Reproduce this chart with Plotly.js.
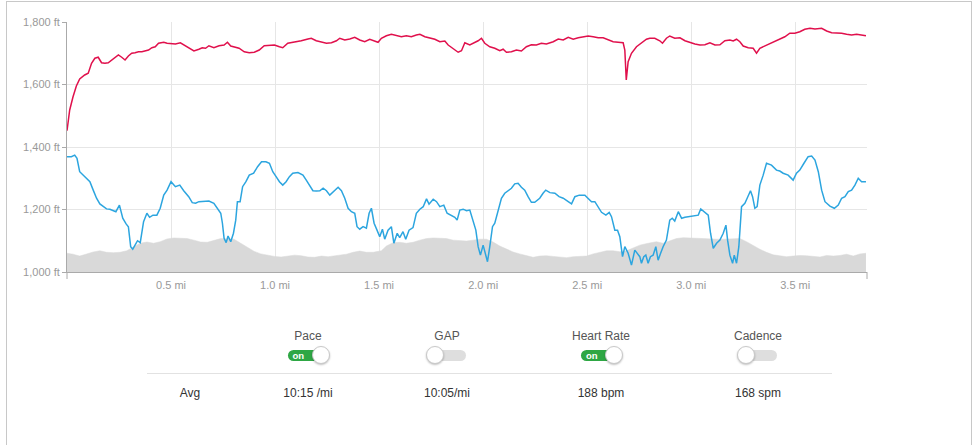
<!DOCTYPE html>
<html>
<head>
<meta charset="utf-8">
<script src="https://cdn.plot.ly/plotly-3.0.1.min.js"></script>
<style>
  html, body { margin: 0; padding: 0; background: #fff; }
  body { width: 974px; height: 445px; position: relative; overflow: hidden; font-family: "Liberation Sans", Arial, sans-serif; }
  #chart { position: absolute; left: 0; top: 0; width: 974px; height: 445px; }
  #frame { position: absolute; left: 6px; top: 1px; width: 966px; height: 600px; border: 1px solid #c8c8c8; box-sizing: border-box; pointer-events: none; }
  .lbl { position: absolute; transform: translate(-50%, -50%); font-size: 12px; color: #555; white-space: nowrap; }
  .val { position: absolute; transform: translate(-50%, -50%); font-size: 12px; color: #333; white-space: nowrap; }
  .pill { position: absolute; height: 11px; border-radius: 6px; }
  .knob { position: absolute; width: 16px; height: 16px; border-radius: 50%; background: #fff; border: 1px solid #c9c9c9; box-shadow: 0 1px 2px rgba(0,0,0,0.25); }
  .ontxt { position: absolute; font-size: 9.5px; font-weight: bold; color: #fff; line-height: 11px; }
  #sep { position: absolute; left: 147px; top: 373px; width: 685px; height: 1px; background: #e2e2e2; }
</style>
</head>
<body>
<div id="chart"></div>
<div id="frame"></div>
<div id="sep"></div>
<script>
// ---------- data ----------
const elevDist = [0,0.029,0.061,0.094,0.126,0.158,0.190,0.223,0.255,0.287,0.319,0.352,0.384,0.416,0.448,0.481,0.513,0.545,0.577,0.610,0.642,0.674,0.706,0.739,0.771,0.803,0.835,0.868,0.900,0.932,0.965,0.997,1.029,1.061,1.094,1.126,1.158,1.190,1.223,1.255,
 1.279,1.311,1.343,1.375,1.407,1.439,1.471,1.511,1.535,1.567,1.599,1.631,1.663,1.696,1.728,1.760,1.792,1.824,1.856,1.888,1.920,1.952,1.984,2.016,2.048,2.080,2.112,2.144,2.176,2.208,2.240,2.272,2.304,2.337,2.369,2.401,2.433,2.465,2.497,2.529,2.561,2.593,2.625,2.657,2.689,2.721,2.753,2.793,
 2.833,2.865,2.897,2.929,2.962,2.994,3.026,3.058,3.090,3.122,3.154,3.186,3.218,3.234,3.266,3.298,3.330,3.362,3.394,3.426,3.458,3.490,3.522,3.554,3.587,3.619,3.651,3.683,3.715,3.747,3.779,3.811,3.840];
const elevFt = [1060,1057,1051,1058,1064,1068,1063,1062,1063,1068,1081,1092,1096,1092,1097,1106,1109,1108,1107,1102,1096,1095,1102,1107,1106,1105,1092,1078,1066,1058,1053,1050,1048,1051,1054,1052,1048,1047,1051,1049,
 1051,1052,1057,1063,1067,1063,1063,1068,1083,1094,1095,1092,1095,1102,1107,1109,1109,1107,1102,1100,1099,1102,1105,1105,1096,1083,1073,1064,1058,1052,1047,1051,1052,1050,1049,1046,1049,1051,1051,1058,1063,1068,1068,1065,1068,1076,1086,1092,
 1097,1092,1100,1107,1110,1110,1108,1107,1105,1105,1105,1106,1105,1107,1097,1084,1073,1063,1055,1052,1049,1051,1053,1052,1050,1048,1053,1051,1053,1057,1051,1058,1060];

const paceDist = [0.000,0.021,0.037,0.048,0.061,0.077,0.094,0.110,0.126,0.142,0.158,0.174,0.190,0.206,0.223,0.235,0.252,0.268,0.284,0.295,0.306,0.316,0.327,0.339,0.352,0.368,0.384,0.397,0.413,0.432,0.448,0.465,0.481,0.500,0.521,0.542,0.561,0.585,0.602,0.618,0.634,0.658,0.682,0.706,0.723,0.739,0.747,0.755,0.765,0.774,0.787,0.800,0.811,0.819,0.832,0.844,0.860,0.876,0.897,0.916,0.935,0.956,0.973,0.989,1.005,1.021,1.037,1.053,1.069,1.085,1.110,1.134,1.150,1.166,1.182,1.198,1.215,1.231,1.247,1.263,
 1.279,1.303,1.319,1.335,1.351,1.367,1.383,1.394,1.407,1.423,1.439,1.452,1.463,1.476,1.490,1.503,1.516,1.527,1.543,1.559,1.571,1.587,1.599,1.615,1.628,1.644,1.663,1.679,1.696,1.712,1.728,1.740,1.760,1.776,1.792,1.811,1.827,1.848,1.864,1.875,1.888,1.904,1.920,1.936,1.952,1.965,1.976,1.987,2.000,2.011,2.021,2.032,2.045,2.056,2.072,2.088,2.104,2.120,2.136,2.152,2.168,2.184,2.200,2.216,2.232,2.248,2.272,2.288,2.301,2.321,2.345,2.365,2.385,2.409,2.425,2.441,2.462,2.489,2.505,2.521,2.537,2.553,2.569,2.590,2.606,2.617,2.633,2.646,2.657,2.670,2.681,2.697,2.713,2.729,
 2.753,2.761,2.772,2.782,2.793,2.804,2.817,2.830,2.841,2.853,2.865,2.881,2.897,2.909,2.921,2.938,2.954,2.970,2.994,3.018,3.034,3.046,3.066,3.082,3.093,3.106,3.122,3.138,3.154,3.167,3.175,3.186,3.199,3.207,3.218,3.229,3.242,3.258,3.269,3.285,3.295,3.306,3.317,3.330,3.346,3.362,3.386,3.410,3.426,3.442,3.466,3.490,3.506,3.522,3.542,3.562,3.579,3.595,3.611,3.627,3.643,3.667,3.688,3.707,3.723,3.739,3.755,3.771,3.787,3.803,3.819,3.840];
// pace in minutes per mile
const paceMinPerMi = [8.81,8.81,8.76,8.86,9.29,9.40,9.50,9.61,9.88,10.14,10.32,10.41,10.48,10.49,10.54,10.57,10.36,10.78,10.96,11.05,11.69,11.77,11.64,11.50,11.56,10.89,10.62,10.75,10.68,10.68,10.46,10.04,9.88,9.61,9.77,9.72,9.90,10.09,10.28,10.30,10.25,10.23,10.23,10.30,10.46,10.62,10.94,11.42,11.56,11.35,11.53,11.26,10.84,10.25,10.25,9.77,9.61,9.40,9.34,9.13,8.97,8.97,9.02,9.29,9.45,9.61,9.72,9.61,9.45,9.34,9.32,9.40,9.56,9.72,9.90,9.91,9.90,9.82,9.90,10.04,
 9.93,9.79,9.90,10.14,10.46,10.57,10.62,11.05,11.13,11.05,11.10,10.62,10.46,10.94,11.16,11.37,11.13,11.45,11.16,11.05,11.58,11.26,11.40,11.21,11.45,11.16,11.08,10.62,10.49,10.41,10.16,10.33,10.17,10.25,10.41,10.36,10.62,10.68,10.75,10.84,10.52,10.49,10.54,10.52,10.92,11.16,11.69,11.96,11.64,11.96,12.17,11.69,11.05,10.94,10.52,10.14,9.98,9.90,9.82,9.68,9.66,9.79,9.88,10.09,10.27,10.27,10.14,9.98,9.88,9.96,9.98,10.09,10.14,10.25,10.32,10.09,10.04,10.04,10.16,10.25,10.25,10.41,10.59,10.68,10.59,10.73,11.16,11.16,11.37,12.01,11.69,11.90,12.28,11.80,
 12.01,12.22,12.01,11.96,12.22,12.01,11.96,11.69,12.12,11.90,11.69,11.48,10.84,10.78,10.87,10.57,10.78,10.75,10.73,10.71,10.68,10.48,10.59,10.68,11.26,11.74,11.58,11.48,11.26,11.00,11.48,11.96,12.22,11.96,12.22,11.69,10.41,10.30,10.14,9.90,10.09,10.46,10.41,9.72,9.40,9.02,9.08,9.24,9.27,9.34,9.40,9.56,9.34,9.24,9.02,8.81,8.79,8.92,9.29,9.88,10.25,10.39,10.46,10.36,10.14,10.09,9.93,9.88,9.72,9.50,9.61,9.61];

const hrDist = [0,0.013,0.029,0.045,0.061,0.085,0.102,0.118,0.134,0.150,0.166,0.182,0.198,0.215,0.231,0.247,0.263,0.279,0.295,0.311,0.327,0.344,0.360,0.376,0.392,0.408,0.424,0.440,0.465,0.481,0.505,0.521,0.545,0.561,0.585,0.610,0.634,0.650,0.666,0.682,0.706,0.731,0.755,0.771,0.787,0.803,0.827,0.852,0.876,0.900,0.924,0.948,0.973,0.997,1.021,1.037,1.061,1.094,1.126,1.158,1.174,1.198,1.223,1.247,1.271,
 1.295,1.311,1.335,1.359,1.383,1.407,1.431,1.455,1.479,1.495,1.511,1.535,1.559,1.583,1.607,1.631,1.655,1.679,1.696,1.720,1.744,1.768,1.792,1.816,1.832,1.856,1.880,1.896,1.912,1.936,1.960,1.976,1.992,2.008,2.032,2.056,2.080,2.096,2.112,2.136,2.160,2.184,2.208,2.232,2.256,2.280,2.304,2.337,2.361,2.385,2.409,2.433,2.457,2.481,2.505,2.529,2.553,2.577,2.601,2.625,2.649,2.673,2.681,2.688,2.697,2.713,2.737,2.761,2.785,2.801,
 2.825,2.849,2.862,2.881,2.897,2.921,2.946,2.970,2.994,3.018,3.042,3.066,3.090,3.114,3.138,3.162,3.186,3.202,3.218,3.234,3.250,3.274,3.298,3.314,3.330,3.354,3.378,3.402,3.426,3.450,3.474,3.498,3.522,3.546,3.571,3.595,3.627,3.651,3.675,3.699,3.723,3.747,3.771,3.795,3.819,3.840];
const hrBpm = [156.5,164.8,170.1,174.4,177.2,178.8,179.5,183.5,185.5,185.9,183.7,183.5,183.7,184.8,185.5,186.8,185.9,184.8,186.4,187.5,187.7,188.1,188.1,188.5,188.8,189.7,190.1,191.5,191.9,191.5,191.2,191.2,191.7,190.8,189.5,188.4,189.1,189.7,189.5,190.5,189.7,190.5,190.8,191.9,190.4,190.1,189.5,188.1,187.7,187.9,188.8,190.5,190.8,190.8,190.1,189.7,191.5,191.9,192.5,193.2,193.5,192.5,192.1,191.5,191.7,
 192.5,193.5,192.8,193.2,193.9,192.8,192.1,193.1,192.4,191.9,193.5,194.5,195.1,194.5,194.1,194.5,194.1,194.8,195.1,194.1,193.7,193.1,192.1,192.4,190.8,189.5,187.9,188.5,191.7,190.8,191.7,192.5,193.5,191.5,190.1,189.5,188.5,189.1,187.9,188.1,188.8,188.4,190.1,190.9,190.8,191.5,191.2,192.1,193.2,192.8,193.9,193.1,193.7,194.1,194.4,194.1,193.7,193.7,192.8,192.1,191.9,191.7,188.8,176.8,184.1,187.5,190.1,191.7,193.1,193.5,
 193.5,192.5,191.5,193.5,194.4,193.5,193.7,192.5,191.7,191.2,190.8,190.9,191.7,190.8,190.9,192.5,192.8,192.4,193.1,192.1,190.4,189.7,189.5,187.5,189.5,190.4,191.5,192.1,193.1,194.1,195.5,195.5,196.1,197.1,197.5,197.2,197.5,196.4,195.7,195.7,195.5,195.1,194.8,195.1,194.8,194.5];

const xTickVals = [0.5, 1.0, 1.5, 2.0, 2.5, 3.0, 3.5];
const xTickText = ['0.5 mi', '1.0 mi', '1.5 mi', '2.0 mi', '2.5 mi', '3.0 mi', '3.5 mi'];

const metricNames = ['Pace', 'GAP', 'Heart Rate', 'Cadence'];
const metricOn = [true, false, true, false];
const metricAvg = ['10:15 /mi', '10:05/mi', '188 bpm', '168 spm'];
const avgLabel = 'Avg';

// ---------- chart ----------
const tickFont = { family: '"Liberation Sans", Arial, sans-serif', size: 11, color: '#999' };
const traces = [
  { x: elevDist, y: elevFt, type: 'scatter', mode: 'lines', fill: 'tozeroy',
    fillcolor: '#d9d9d9', line: { color: '#d9d9d9', width: 0.5 }, hoverinfo: 'skip', yaxis: 'y' },
  { x: paceDist, y: paceMinPerMi, type: 'scatter', mode: 'lines',
    line: { color: '#2ca5df', width: 1.5 }, hoverinfo: 'skip', yaxis: 'y3' },
  { x: hrDist, y: hrBpm, type: 'scatter', mode: 'lines',
    line: { color: '#e0104c', width: 1.5 }, hoverinfo: 'skip', yaxis: 'y2' }
];
const layout = {
  width: 974, height: 445,
  margin: { l: 67, r: 107, t: 22, b: 173 },
  paper_bgcolor: 'rgba(0,0,0,0)', plot_bgcolor: '#fff',
  showlegend: false,
  xaxis: {
    range: [0, 3.845], tickvals: xTickVals, ticktext: xTickText,
    showgrid: true, gridcolor: '#e6e6e6', gridwidth: 1,
    showline: true, linecolor: '#aaa', linewidth: 1,
    ticks: '', ticklabelstandoff: 3, zeroline: false, tickfont: tickFont, fixedrange: true
  },
  yaxis: {
    range: [1000, 1800], dtick: 200, tickformat: ',', ticksuffix: ' ft',
    showgrid: true, gridcolor: '#e6e6e6', gridwidth: 1,
    showline: true, linecolor: '#aaa', linewidth: 1,
    ticks: 'outside', ticklen: 4, tickcolor: '#aaa',
    zeroline: false, tickfont: tickFont, fixedrange: true
  },
  yaxis2: { overlaying: 'y', range: [100, 200], visible: false, fixedrange: true },
  yaxis3: { overlaying: 'y', range: [12.5, 4.5], visible: false, fixedrange: true },
  shapes: [
    { type: 'line', xref: 'x domain', yref: 'y domain', x0: 0, x1: 0, y0: 0, y1: -0.028, line: { color: '#aaa', width: 1 } },
    { type: 'line', xref: 'x domain', yref: 'y domain', x0: 1, x1: 1, y0: 0, y1: -0.028, line: { color: '#aaa', width: 1 } }
  ]
};
Plotly.newPlot('chart', traces, layout, { staticPlot: true, displayModeBar: false });

// ---------- metric toggles ----------
const colCenters = [308, 447, 601, 758];
const toggleCenters = [308.5, 446, 602, 757];
metricNames.forEach((name, i) => {
  const l = document.createElement('div');
  l.className = 'lbl'; l.textContent = name;
  l.style.left = colCenters[i] + 'px'; l.style.top = '336px';
  document.body.appendChild(l);

  const v = document.createElement('div');
  v.className = 'val'; v.textContent = metricAvg[i];
  v.style.left = colCenters[i] + 'px'; v.style.top = '393px';
  document.body.appendChild(v);

  const cx = toggleCenters[i];
  const pill = document.createElement('div');
  pill.className = 'pill';
  pill.style.top = '349.5px';
  const knob = document.createElement('div');
  knob.className = 'knob';
  knob.style.top = '346px';
  if (metricOn[i]) {
    pill.style.left = (cx - 21) + 'px'; pill.style.width = '36px'; pill.style.background = '#2ea744';
    knob.style.left = (cx + 12 - 9) + 'px';
    const t = document.createElement('div');
    t.className = 'ontxt'; t.textContent = 'on';
    t.style.left = (cx - 16) + 'px'; t.style.top = '349.5px';
    document.body.appendChild(pill); document.body.appendChild(t);
  } else {
    pill.style.left = (cx - 16) + 'px'; pill.style.width = '36px'; pill.style.background = '#dedede';
    knob.style.left = (cx - 11 - 9) + 'px';
    document.body.appendChild(pill);
  }
  document.body.appendChild(knob);
});
const a = document.createElement('div');
a.className = 'val'; a.textContent = avgLabel;
a.style.left = '190px'; a.style.top = '393px';
document.body.appendChild(a);
</script>
</body>
</html>
